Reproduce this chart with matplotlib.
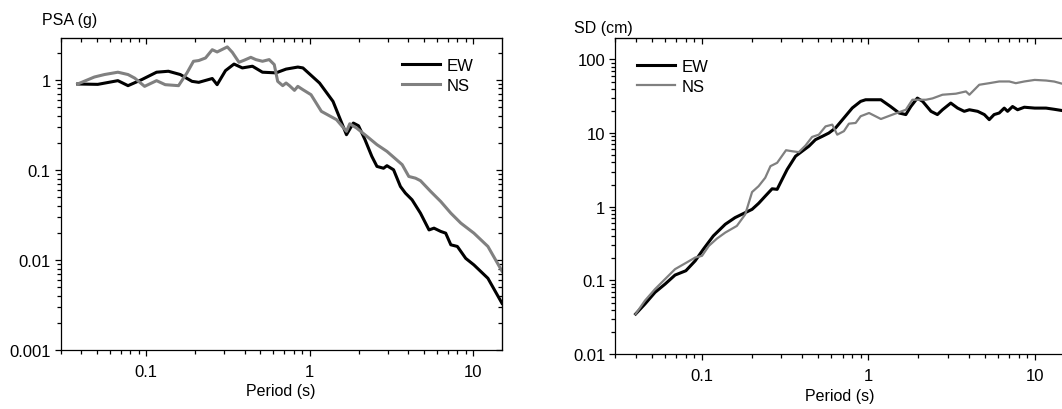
import numpy as np
import matplotlib
matplotlib.use('Agg')
import matplotlib.pyplot as plt
from matplotlib.ticker import FuncFormatter, NullFormatter, LogLocator

plt.rcParams['font.family'] = ['Liberation Sans', 'DejaVu Sans']
plt.rcParams['font.size'] = 11

# Спектр ускорений PSA (g), компонента EW
psa_ew_T = [0.0382, 0.0507, 0.0673, 0.0776, 0.094, 0.116, 0.137, 0.162, 0.191, 0.21,
            0.254, 0.272, 0.306, 0.345, 0.388, 0.447, 0.515, 0.623, 0.718, 0.847,
            0.91, 1.15, 1.39, 1.68, 1.85, 1.99, 2.18, 2.40, 2.58, 2.83,
            2.97, 3.26, 3.59, 3.85, 4.23, 4.76, 5.37, 5.76, 6.33, 6.79,
            7.3, 8.0, 9.0, 10.1, 12.3, 15.0]
psa_ew = [0.895, 0.887, 0.975, 0.858, 1.0, 1.21, 1.24, 1.14, 0.958, 0.934,
          1.03, 0.88, 1.26, 1.49, 1.35, 1.41, 1.21, 1.19, 1.31, 1.38,
          1.35, 0.918, 0.574, 0.245, 0.33, 0.308, 0.216, 0.141, 0.109, 0.104,
          0.111, 0.1, 0.0653, 0.0551, 0.0464, 0.033, 0.0215, 0.0225, 0.0207, 0.0198,
          0.0147, 0.0141, 0.0104, 0.0088, 0.00625, 0.0033]

# Спектр ускорений PSA (g), компонента NS
psa_ns_T = [0.0382, 0.0483, 0.0557, 0.0673, 0.0776, 0.0853, 0.098, 0.116, 0.131, 0.158,
            0.178, 0.195, 0.21, 0.231, 0.254, 0.272, 0.314, 0.337, 0.37, 0.397,
            0.437, 0.469, 0.515, 0.566, 0.608, 0.638, 0.685, 0.718, 0.753, 0.808,
            0.847, 0.91, 1.02, 1.18, 1.46, 1.68, 1.76, 1.94, 2.24, 2.58,
            2.97, 3.68, 4.04, 4.44, 4.76, 5.5, 6.33, 7.3, 8.4, 10.1,
            12.3, 15.0]
psa_ns = [0.895, 1.07, 1.14, 1.21, 1.14, 1.04, 0.843, 0.975, 0.88, 0.858,
          1.19, 1.6, 1.63, 1.74, 2.15, 2.03, 2.31, 2.01, 1.56, 1.64,
          1.77, 1.67, 1.6, 1.67, 1.47, 0.958, 0.858, 0.918, 0.858, 0.761,
          0.843, 0.774, 0.681, 0.445, 0.36, 0.267, 0.324, 0.29, 0.235, 0.19,
          0.16, 0.114, 0.0843, 0.0807, 0.0757, 0.0574, 0.0445, 0.033, 0.0256, 0.0198,
          0.0141, 0.0075]

# Спектр смещений SD (cm), компонента EW
sd_ew_T = [0.0399, 0.0454, 0.0522, 0.06, 0.0689, 0.08, 0.091, 0.102, 0.117, 0.138,
           0.158, 0.182, 0.2, 0.219, 0.24, 0.264, 0.283, 0.303, 0.325, 0.365,
           0.40, 0.439, 0.481, 0.528, 0.579, 0.635, 0.713, 0.801, 0.899, 0.963,
           1.19, 1.36, 1.53, 1.68, 1.8, 1.97, 2.12, 2.38, 2.6, 2.79,
           3.13, 3.44, 3.77, 4.05, 4.54, 4.98, 5.33, 5.7, 6.12, 6.56,
           6.87, 7.36, 7.89, 8.66, 10.0, 11.7, 13.1, 15.0]
sd_ew = [0.0349, 0.0477, 0.0687, 0.089, 0.118, 0.135, 0.184, 0.265, 0.401, 0.577,
         0.71, 0.83, 0.92, 1.11, 1.39, 1.75, 1.72, 2.34, 3.2, 4.84,
         5.66, 6.62, 8.13, 9.0, 10.0, 11.7, 16.0, 21.9, 26.9, 28.3,
         28.3, 22.9, 18.7, 17.8, 22.9, 29.8, 26.9, 19.7, 17.8, 20.7,
         25.5, 21.8, 19.7, 20.7, 19.7, 17.8, 15.2, 17.8, 18.7, 21.8,
         19.7, 22.9, 20.7, 22.4, 21.8, 21.8, 21.0, 20.0]

# Спектр смещений SD (cm), компонента NS
sd_ns_T = [0.0399, 0.0454, 0.0522, 0.06, 0.0689, 0.081, 0.091, 0.1, 0.11, 0.123,
           0.138, 0.162, 0.182, 0.2, 0.219, 0.24, 0.258, 0.283, 0.32, 0.348,
           0.382, 0.419, 0.459, 0.504, 0.553, 0.607, 0.65, 0.713, 0.764, 0.839,
           0.899, 1.01, 1.19, 1.40, 1.68, 1.84, 2.22, 2.43, 2.79, 3.36,
           3.86, 4.05, 4.64, 5.33, 6.12, 7.03, 7.7, 8.66, 10.0, 11.7,
           13.1, 15.0]
sd_ns = [0.0349, 0.053, 0.076, 0.104, 0.142, 0.175, 0.204, 0.215, 0.294, 0.369,
         0.445, 0.548, 0.787, 1.58, 1.9, 2.47, 3.55, 3.94, 5.84, 5.66,
         5.5, 6.76, 8.85, 9.5, 12.3, 13.0, 9.5, 10.6, 13.4, 13.7,
         16.9, 18.7, 15.5, 17.8, 20.7, 28.3, 28.3, 29.5, 33.1, 34.2,
         36.7, 33.1, 45.2, 47.5, 50.1, 50.1, 47.5, 50.1, 52.6, 51.6,
         50.0, 46.0]

ew_color = 'black'
ns_color = '#808080'

fig = plt.figure(figsize=(10.62, 4.10), dpi=100)

ax1 = fig.add_axes([60.5 / 1062, 1 - 351 / 410, (502 - 60.5) / 1062, (351 - 39) / 410])
ax2 = fig.add_axes([615 / 1062, 1 - 355 / 410, (1064 - 615) / 1062, (355 - 39) / 410])

ax1.plot(psa_ew_T, psa_ew, color=ew_color, linewidth=2.2, label='EW')
ax1.plot(psa_ns_T, psa_ns, color=ns_color, linewidth=2.2, label='NS')
ax2.plot(sd_ew_T, sd_ew, color=ew_color, linewidth=2.2, label='EW')
ax2.plot(sd_ns_T, sd_ns, color=ns_color, linewidth=1.6, label='NS')

fmt = FuncFormatter(lambda v, p: '%g' % v)

def style_axis(ax, ylim, right_ticks=True, xlabelpad=4):
    ax.set_xscale('log')
    ax.set_yscale('log')
    ax.set_xlim(0.03, 15)
    ax.set_ylim(*ylim)
    for s in ax.spines.values():
        s.set_linewidth(0.9)
    ax.xaxis.set_major_formatter(fmt)
    ax.yaxis.set_major_formatter(fmt)
    ax.xaxis.set_minor_formatter(NullFormatter())
    ax.yaxis.set_minor_formatter(NullFormatter())
    ax.yaxis.set_minor_locator(LogLocator(subs=np.arange(2, 10), numticks=20))
    ax.tick_params(which='both', direction='out', width=0.9, labelsize=12)
    ax.tick_params(which='major', length=4)
    ax.tick_params(which='minor', length=3)
    ax.tick_params(axis='x', which='major', pad=6)
    ax.tick_params(axis='y', which='major', pad=3)
    # верхняя и правая шкалы - риски внутрь
    secs = [ax.secondary_xaxis('top')]
    if right_ticks:
        right = ax.secondary_yaxis('right')
        right.yaxis.set_minor_locator(LogLocator(subs=np.arange(2, 10), numticks=20))
        secs.append(right)
    else:
        ax.spines['right'].set_visible(False)
    for sec in secs:
        sec.tick_params(which='both', direction='in', width=0.9)
        sec.tick_params(which='major', length=4)
        sec.tick_params(which='minor', length=3)
        sec.xaxis.set_major_formatter(NullFormatter())
        sec.xaxis.set_minor_formatter(NullFormatter())
        sec.yaxis.set_major_formatter(NullFormatter())
        sec.yaxis.set_minor_formatter(NullFormatter())
    ax.set_xlabel('Period (s)', fontsize=11.5, labelpad=xlabelpad)

style_axis(ax1, (0.001, 2.9), xlabelpad=3)
style_axis(ax2, (0.01, 195), right_ticks=False, xlabelpad=4)

fig.text(42 / 1062, 1 - 20 / 410, 'PSA (g)', fontsize=11.5, va='center', ha='left')
fig.text(574 / 1062, 1 - 29 / 410, 'SD (cm)', fontsize=11.5, va='center', ha='left')

ax1.legend(loc='upper left', bbox_to_anchor=(0.773, 0.935), frameon=False,
           borderpad=0, borderaxespad=0, handlelength=2.3, handletextpad=0.4,
           labelspacing=0.3, fontsize=12)
ax2.legend(loc='upper left', bbox_to_anchor=(0.049, 0.935), frameon=False,
           borderpad=0, borderaxespad=0, handlelength=2.3, handletextpad=0.4,
           labelspacing=0.3, fontsize=12)

plt.savefig('out.png', dpi=100)
